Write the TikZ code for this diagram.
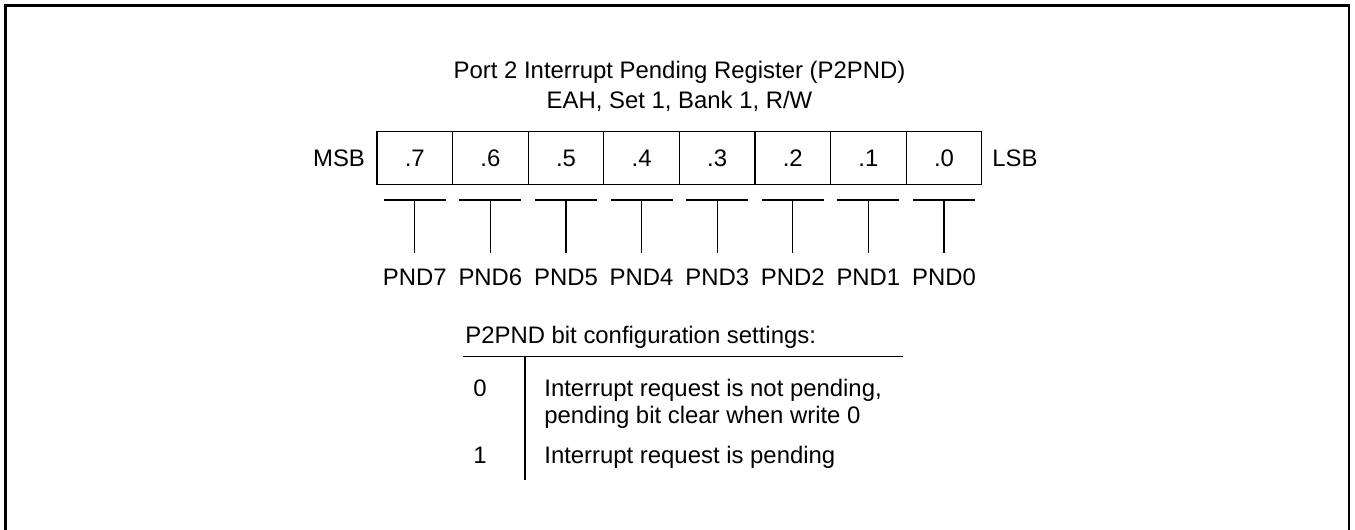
\documentclass[tikz,border=0pt]{standalone}
\usepackage{fontspec}
\setmainfont{Liberation Sans}
\usetikzlibrary{positioning}

\tikzset{
  txt/.style={font=\fontsize{13.6}{16}\selectfont, inner sep=0pt},
  bitcell/.style={txt, draw, line width=0.6pt, minimum width=1.512cm, minimum height=1.06cm},
  pndlabel/.style={txt, anchor=base, inner ysep=8.4pt},
  tbar/.style={line width=0.6pt},
  frame/.style={line width=1.5pt}
}

\begin{document}
\begin{tikzpicture}[x=0.02cm, y=-0.02cm]
  \useasboundingbox (0,0) rectangle (1355,529);

  %===== outer frame (bottom cut off) =====%
  \draw[frame] (5.5,535) -- (5.5,5.5) -- (1349,5.5) -- (1349,535);

  %===== title =====%
  \node[txt, anchor=base] (title1) at (679.5,78) {Port 2 Interrupt Pending Register (P2PND)};
  \node[txt, anchor=base] (title2) at (679.5,108) {EAH, Set 1, Bank 1, R/W};

  %===== register cells =====%
  \node[txt, anchor=base] (msb) at (339,166) {MSB};
  \node[txt, anchor=base] (lsb) at (1015,166) {LSB};
  \foreach \i in {7,...,0} {
    \pgfmathsetmacro\cx{377+75.6*(7-\i)+37.8}
    \node[bitcell] (b\i) at (\cx,158.4) {.\i};
    \coordinate (t\i) at (\cx,200);
    \draw[tbar] ([xshift=-0.62cm]t\i) -- ([xshift=0.62cm]t\i);
    \node[pndlabel] (p\i) at (\cx,285) {PND\i};
    \draw[tbar] (t\i) -- (p\i.north);
  }

  %===== bit settings table =====%
  \node[txt, anchor=base west] (cfg) at (465,343) {P2PND bit configuration settings:};
  \coordinate (hl) at (462.7,356.7);
  \coordinate (hr) at (903,356.7);
  \draw[tbar] (hl) -- (hr);
  \coordinate (vt) at (525,356.7);
  \coordinate (vb) at (525,480);
  \draw[tbar] (vt) -- (vb);

  \node[txt, anchor=base] (v0) at (480,396) {0};
  \node[txt, anchor=base west] (d0a) at (544,396) {Interrupt request is not pending,};
  \node[txt, anchor=base west] (d0b) at (544,423) {pending bit clear when write 0};
  \node[txt, anchor=base] (v1) at (480,463) {1};
  \node[txt, anchor=base west] (d1) at (544,463) {Interrupt request is pending};
\end{tikzpicture}
\end{document}
